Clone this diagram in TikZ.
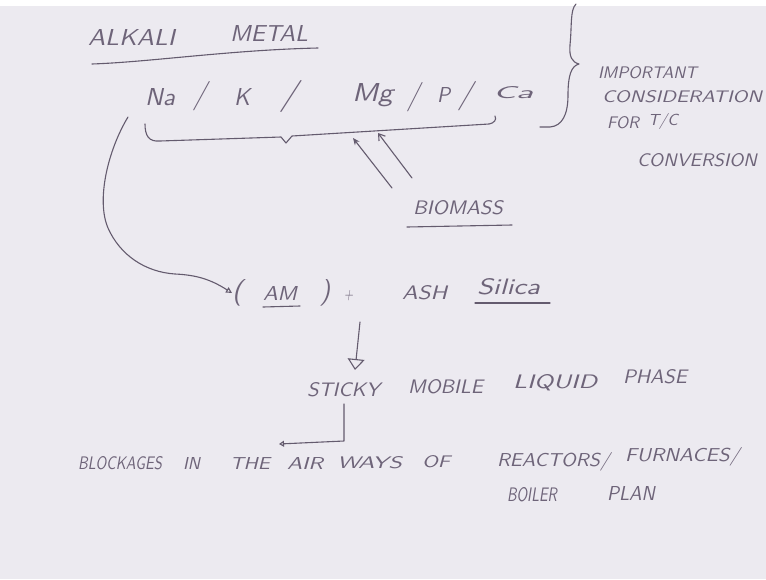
\documentclass[tikz,border=0pt]{standalone}
\usepackage{graphicx}
\usetikzlibrary{arrows.meta}
\definecolor{paper}{HTML}{ECEAF0}
\definecolor{ink}{HTML}{6E6479}
\definecolor{penline}{HTML}{645B6E}
\newcommand{\HW}[3]{\resizebox{#1pt}{#2pt}{\sffamily\slshape #3}}
\tikzset{
  hw/.style={inner sep=0pt, outer sep=0pt, text=ink, anchor=west},
  pen/.style={draw=penline, line width=1.1pt, line cap=round, line join=round},
}
\begin{document}
\begin{tikzpicture}[x=1pt,y=-1pt]
\useasboundingbox (0,0) rectangle (766,579);
\fill[white] (0,0) rectangle (766,579);
\fill[paper] (0,6) rectangle (766,579);

% title
\node[hw] (alkali) at (88,37) {\HW{87}{16}{ALKALI}};
\node[hw] (metal) at (230,33) {\HW{78}{16}{METAL}};
\draw[pen] (92,64) .. controls (150,62) and (230,50) .. (318,48);

% elements row
\node[hw] (na) at (145,97) {\HW{30}{17}{Na}};
\node[hw] (s1) at (193,96) {\HW{14}{22}{/}};
\node[hw] (k) at (234,97) {\HW{16}{17}{K}};
\node[hw] (s2) at (280,96) {\HW{18}{24}{/}};
\node[hw] (mg) at (352,95) {\HW{41}{18}{Mg}};
\node[hw] (s3) at (407,97) {\HW{13}{22}{/}};
\node[hw] (p) at (437,95) {\HW{13}{15}{P}};
\node[hw] (s4) at (458,96) {\HW{15}{22}{/}};
\node[hw] (ca) at (493,93) {\HW{40}{12}{Ca}};

% brace under elements
\draw[pen] (145,124) .. controls (145,136) and (149,142) .. (160,141)
  -- (281,137) -- (286,143) -- (292,136) -- (489,124)
  .. controls (494,123) and (497,120) .. (495,116);

% right brace
\draw[pen] (576,4) .. controls (570,10) and (572,25) .. (570,45)
  .. controls (569,57) and (572,62) .. (579,64)
  .. controls (571,66) and (568,76) .. (568,95)
  .. controls (568,115) and (562,126) .. (550,127) -- (540,127);

% right note
\node[hw] (imp) at (598,73) {\HW{99}{12}{IMPORTANT}};
\node[hw] (cons) at (602,97) {\HW{160}{12}{CONSIDERATION}};
\node[hw] (for) at (607,123) {\HW{32}{12}{FOR}};
\node[hw] (tc) at (648,121) {\HW{30}{12}{T/C}};
\node[hw] (conv) at (637,160) {\HW{120}{13}{CONVERSION}};

% biomass
\node[hw] (bio) at (413,208) {\HW{90}{14}{BIOMASS}};
\draw[pen] (407,227) -- (512,225);
\coordinate (b1) at (392,188);
\coordinate (b2) at (412,178);
\coordinate (t1) at (353,138);
\coordinate (t2) at (378,133);
\draw[pen, -{Stealth[length=7pt,width=6pt]}] (b1) -- (t1);
\draw[pen, -{Straight Barb[length=6pt,width=8pt]}] (b2) -- (t2);

% AM + ash silica
\node[hw] (lp) at (232,293) {\HW{11}{20}{(}};
\node[hw] (am) at (263,293) {\HW{34}{14}{AM}};
\node[hw] (rp) at (320,293) {\HW{10}{20}{)}};
\node[hw] (plus) at (344,296) {\HW{9}{9}{+}};
\node[hw] (ash) at (402,293) {\HW{45}{14}{ASH}};
\node[hw] (sil) at (477,287) {\HW{63}{16}{Silica}};
\draw[pen] (263,307) -- (300,306);
\draw[pen] (475,303) -- (550,303);

% big curved arrow
\coordinate (cstart) at (128,117);
\draw[pen, -{Triangle[open,length=6pt,width=6pt]}] (cstart)
  .. controls (108,150) and (96,200) .. (108,228)
  .. controls (120,255) and (145,272) .. (175,274)
  .. controls (196,275) and (210,279) .. (lp.west);

% sticky row
\coordinate (dtop) at (360,322);
\node[hw] (sticky) at (307,390) {\HW{73}{14}{STICKY}};
\node[hw] (mobile) at (408,387) {\HW{75}{14}{MOBILE}};
\node[hw] (liquid) at (513,383) {\HW{84}{14}{LIQUID}};
\node[hw] (phase) at (623,377) {\HW{64}{14}{PHASE}};
\draw[pen, -{Triangle[open,length=11pt,width=17pt]}] (dtop) -- (355,370);

% blockage row
\node[hw] (block) at (78,463) {\HW{84}{13}{BLOCKAGES}};
\node[hw] (in) at (183,463) {\HW{17}{12}{IN}};
\node[hw] (the) at (230,463) {\HW{40}{12}{THE}};
\node[hw] (air) at (287,463) {\HW{36}{12}{AIR}};
\node[hw] (ways) at (337,463) {\HW{65}{12}{WAYS}};
\node[hw] (of) at (422,462) {\HW{28}{12}{OF}};
\node[hw] (reac) at (497,462) {\HW{113}{14}{REACTORS/}};
\node[hw] (furn) at (625,457) {\HW{115}{14}{FURNACES/}};
\node[hw] (boil) at (507,495) {\HW{50}{14}{BOILER}};
\node[hw] (plan) at (607,493) {\HW{48}{14}{PLAN}};

\coordinate (ctop) at (344,404);
\coordinate (cend) at (279,444);
\draw[pen, -{Triangle[open,length=5pt,width=6pt]}] (ctop) -- (344,441) -- (cend);
\end{tikzpicture}
\end{document}
